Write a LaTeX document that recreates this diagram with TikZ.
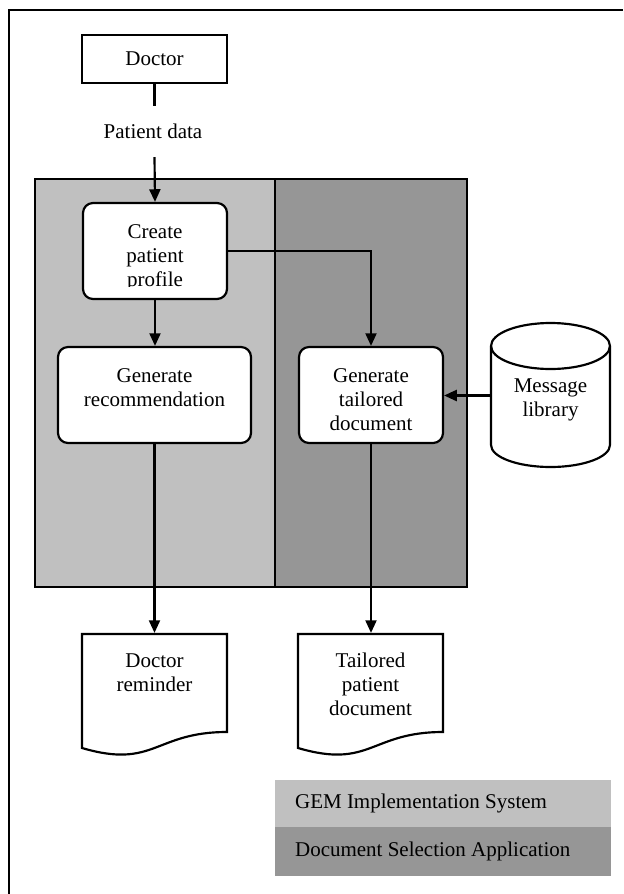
\documentclass[tikz,border=0pt]{standalone}
\usepackage{fontspec}
\setmainfont{Liberation Serif}
\usetikzlibrary{arrows.meta,calc}
\newdimen\px \px=0.6pt
\definecolor{lgray}{HTML}{C0C0C0}
\definecolor{dgray}{HTML}{969696}
\begin{document}
\begin{tikzpicture}[x=0.6pt,y=-0.6pt, line width=1.3pt,
  every node/.style={font=\fontsize{12.6}{14.4}\selectfont},
  box/.style={draw, fill=white, inner sep=0pt},
  rbox/.style={box, rounded corners=6pt},
  txt/.style={anchor=north, align=center, inner sep=0pt},
  arr/.style={-{Triangle[width=6.6pt,length=7.6pt]}},
  ghost/.style={inner sep=0pt},
]
\useasboundingbox (0,0) rectangle (623,894);

% outer frame (cropped at right and bottom)
\draw (9,894) -- (9,10) -- (623,10);

% swimlanes
\fill[lgray] (35,179) rectangle (275,587);
\fill[dgray] (275,179) rectangle (467,587);
\draw (35,179) rectangle (467,587);
\draw (275,179) -- (275,587);

% Doctor
\node[box, minimum width=145\px, minimum height=48\px] (doctor) at (154.5,59) {Doctor};
\node[ghost, minimum height=49\px] (pd) at (153,131.5) {Patient data};

% Create patient profile
\node[rbox, minimum width=144\px, minimum height=96\px] (create) at (155,251) {};
\node[txt] (createT) at (155,221) {\strut Create\\patient\\profile};
\fill[white] (95,286.5) rectangle (215,297);

% Generate recommendation
\node[rbox, minimum width=193\px, minimum height=96\px] (genrec) at (154.5,395) {};
\node[txt] (genrecT) at (154.5,365) {\strut Generate\\recommendation};

% Generate tailored document
\node[rbox, minimum width=144\px, minimum height=96\px] (gentail) at (371,395) {};
\node[txt] (gentailT) at (371,365) {\strut Generate\\tailored\\document};

% Message library (cylinder)
\node[ghost, minimum width=119\px, minimum height=99\px] (cyl) at (550.5,395.5) {};
\draw[fill=white] (491,346) -- (491,445)
  arc[start angle=180, end angle=0, x radius=59.5, y radius=22]
  -- (610,346)
  arc[start angle=0, end angle=-180, x radius=59.5, y radius=23] -- cycle;
\draw (491,346) arc[start angle=180, end angle=0, x radius=59.5, y radius=23];
\node[txt] (cylT) at (550.5,375) {\strut Message\\library};

% Documents
\node[ghost, minimum width=145\px, minimum height=122\px] (ldoc) at (154.5,695) {};
\draw[fill=white] (82,634) -- (227,634) -- (227,732)
  .. controls (154.5,732) and (154.5,769.3) .. (82,748) -- cycle;
\node[txt] (ldocT) at (154.5,650) {\strut Doctor\\reminder};

\node[ghost, minimum width=145\px, minimum height=122\px] (rdoc) at (370.5,695) {};
\draw[fill=white] (298,634) -- (443,634) -- (443,732)
  .. controls (370.5,732) and (370.5,769.3) .. (298,748) -- cycle;
\node[txt] (rdocT) at (370.5,650) {\strut Tailored\\patient\\document};

% Legend
\node[ghost, fill=lgray, minimum width=336\px, minimum height=47\px] (leg1) at (443,803.5) {};
\node[ghost, fill=dgray, minimum width=336\px, minimum height=49\px] (leg2) at (443,851.5) {};
\node[ghost, anchor=west] (leg1T) at (294,803) {GEM Implementation System};
\node[ghost, anchor=west] (leg2T) at (294,851) {Document Selection Application};

% Connectors
\draw (doctor.south) -- (doctor.south |- pd.north);
\draw[arr] (doctor.south |- pd.south) -- (create.north);
\draw[arr] (create.south) -- (create.south |- genrec.north);
\draw[arr] (create.east) -| (gentail.north);
\draw[arr] (cyl.west) -- (cyl.west -| gentail.east);
\draw[arr] (genrec.south) -- (genrec.south |- ldoc.north);
\draw[arr] (gentail.south) -- (gentail.south |- rdoc.north);
\end{tikzpicture}
\end{document}
